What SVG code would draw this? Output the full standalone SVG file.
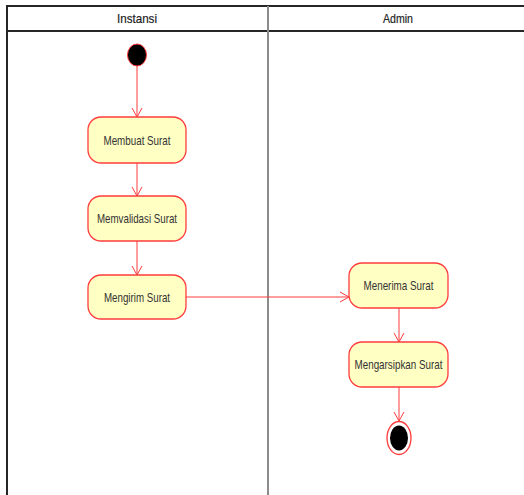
<svg xmlns="http://www.w3.org/2000/svg" width="524" height="495" viewBox="0 0 524 495">
<style>
.frame{stroke:#262626;stroke-width:2;fill:none}
.div{stroke:#8c8c8c;stroke-width:2;fill:none}
.hdr{font-family:"Liberation Sans",Arial,sans-serif;font-size:13px;fill:#222;text-anchor:middle;stroke:#222;stroke-width:0.2}
.node rect{fill:#ffffc4;stroke:#ff3c3c;stroke-width:1.3}
.node text{font-family:"Liberation Sans",Arial,sans-serif;font-size:13px;fill:#333;text-anchor:middle}
.edge{stroke:#ff3c3c;stroke-width:1;fill:none}
</style>
<defs>
<marker id="arr" markerWidth="12" markerHeight="12" refX="10" refY="6" orient="auto" markerUnits="userSpaceOnUse">
<path d="M1,1 L10,6 L1,11" fill="none" stroke="#ff3c3c" stroke-width="1"/>
</marker>
</defs>
<rect width="524" height="495" fill="#fff"/>
<g id="swimlanes">
<line class="frame" x1="6" y1="6" x2="524" y2="6"/>
<line class="frame" x1="7" y1="5" x2="7" y2="495"/>
<line class="frame" x1="6" y1="31" x2="524" y2="31"/>
<line class="div" x1="268" y1="6" x2="268" y2="495"/>
<text class="hdr" x="137" y="23" textLength="40" lengthAdjust="spacingAndGlyphs">Instansi</text>
<text class="hdr" x="398" y="23" textLength="30" lengthAdjust="spacingAndGlyphs">Admin</text>
</g>
<g id="connectors">
<line class="edge" x1="137" y1="66" x2="137" y2="117" marker-end="url(#arr)"/>
<line class="edge" x1="137" y1="163" x2="137" y2="196" marker-end="url(#arr)"/>
<line class="edge" x1="137" y1="241" x2="137" y2="275" marker-end="url(#arr)"/>
<line class="edge" x1="186" y1="297" x2="349" y2="297" marker-end="url(#arr)"/>
<line class="edge" x1="399" y1="308" x2="399" y2="342" marker-end="url(#arr)"/>
<line class="edge" x1="399" y1="387" x2="399" y2="421" marker-end="url(#arr)"/>
</g>
<g id="start">
<ellipse cx="137" cy="55" rx="9.5" ry="11" fill="#000" stroke="#ff3c3c" stroke-width="1"/>
</g>
<g id="membuat" class="node">
<rect x="88" y="117" width="98" height="46" rx="13"/>
<text x="137" y="144.5" textLength="67" lengthAdjust="spacingAndGlyphs">Membuat Surat</text>
</g>
<g id="memvalidasi" class="node">
<rect x="88" y="196" width="98" height="45" rx="13"/>
<text x="137" y="223" textLength="80" lengthAdjust="spacingAndGlyphs">Memvalidasi Surat</text>
</g>
<g id="mengirim" class="node">
<rect x="88" y="275" width="98" height="44" rx="13"/>
<text x="137" y="301.5" textLength="66" lengthAdjust="spacingAndGlyphs">Mengirim Surat</text>
</g>
<g id="menerima" class="node">
<rect x="349" y="263" width="99" height="45" rx="13"/>
<text x="398.5" y="290" textLength="70" lengthAdjust="spacingAndGlyphs">Menerima Surat</text>
</g>
<g id="mengarsipkan" class="node">
<rect x="349" y="342" width="99" height="45" rx="13"/>
<text x="398.5" y="369" textLength="88" lengthAdjust="spacingAndGlyphs">Mengarsipkan Surat</text>
</g>
<g id="end">
<ellipse cx="399" cy="438" rx="12" ry="16.5" fill="#fff" stroke="#ff3c3c" stroke-width="1.3"/>
<ellipse cx="399" cy="438" rx="9" ry="12.5" fill="#000"/>
</g>
</svg>
